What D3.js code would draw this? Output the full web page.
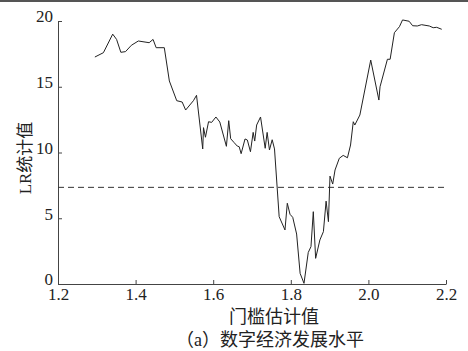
<!DOCTYPE html>
<html>
<head>
<meta charset="utf-8">
<script src="https://cdn.jsdelivr.net/npm/d3@7"></script>
<style>
  html, body { margin: 0; padding: 0; background: #fff; }
  svg { display: block; }
  text { font-family: "Liberation Serif", "DejaVu Serif", "Noto Sans CJK SC", serif; fill: #222; }
</style>
</head>
<body>
<svg id="chart" width="468" height="351"></svg>
<script>
// Threshold estimates and the likelihood-ratio statistic at each one
const thresholds = [
  1.295, 1.317, 1.341, 1.351, 1.362, 1.374, 1.389, 1.407, 1.435, 1.445,
  1.453, 1.474, 1.487, 1.506, 1.520, 1.529, 1.549, 1.557, 1.573, 1.575,
  1.580, 1.588, 1.596, 1.607, 1.617, 1.634, 1.640, 1.645, 1.654, 1.662,
  1.667, 1.672, 1.682, 1.688, 1.696, 1.703, 1.707, 1.712, 1.722, 1.734,
  1.739, 1.745, 1.752, 1.758, 1.770, 1.785, 1.791, 1.798, 1.805, 1.815,
  1.824, 1.834, 1.845, 1.852, 1.858, 1.864, 1.875, 1.884, 1.891, 1.897,
  1.901, 1.908, 1.914, 1.925, 1.935, 1.946, 1.954, 1.961, 1.965, 1.978,
  2.006, 2.027, 2.030, 2.049, 2.056, 2.067, 2.080, 2.088, 2.105, 2.114,
  2.126, 2.137, 2.157, 2.167, 2.176, 2.189
];
const lrStats = [
  17.26, 17.59, 19.00, 18.60, 17.62, 17.67, 18.15, 18.48, 18.35, 18.60,
  17.97, 17.97, 15.44, 13.94, 13.84, 13.23, 13.94, 14.35, 10.27, 11.89,
  11.16, 12.34, 12.29, 12.70, 12.32, 10.47, 12.42, 11.05, 10.75, 10.49,
  10.44, 9.91, 11.03, 10.95, 10.06, 11.53, 10.87, 12.09, 12.70, 10.32,
  11.53, 10.19, 10.97, 10.27, 5.12, 4.11, 6.14, 5.30, 5.07, 3.80,
  0.81, 0.05, 2.40, 2.84, 5.50, 1.95, 3.35, 3.98, 6.30, 4.74,
  8.20, 7.60, 8.67, 9.56, 9.78, 9.60, 10.57, 12.34, 12.09, 12.85,
  17.03, 13.99, 15.00, 17.09, 17.09, 19.11, 19.57, 20.08, 19.98, 19.64,
  19.62, 19.72, 19.62, 19.49, 19.52, 19.37
];
// 95% critical value
const criticalValue = 7.35;

const xTicks = [1.2, 1.4, 1.6, 1.8, 2.0, 2.2];
const yTicks = [0, 5, 10, 15, 20];
const xTitle = "门槛估计值";
const yTitle = "LR统计值";
const caption = "（a）数字经济发展水平";

const serif = "'Liberation Serif', 'DejaVu Serif', serif";
const svg = d3.select("#chart");
const plot = { left: 58, right: 446, top: 21, bottom: 284 };

const x = d3.scaleLinear().domain([1.2, 2.2]).range([plot.left, plot.right]);
const y = d3.scaleLinear().domain([0, 20]).range([plot.bottom, plot.top]);

// thin rule along the top edge of the figure
svg.append("rect").attr("x", 0).attr("y", 0).attr("width", 468).attr("height", 2).attr("fill", "#555");

// axes with inward ticks
const xAxis = svg.append("g")
  .attr("transform", `translate(0,${plot.bottom})`)
  .call(d3.axisBottom(x).tickValues(xTicks).tickFormat(d3.format(".1f")).tickSizeInner(-4).tickSizeOuter(0));
xAxis.select(".domain").attr("stroke", "#444");
xAxis.selectAll(".tick line").attr("stroke", "#444");
xAxis.selectAll(".tick text")
  .attr("y", 3).attr("dy", "0.75em")
  .style("font-family", serif).style("font-size", "17px").style("fill", "#222");

const yAxis = svg.append("g")
  .attr("transform", `translate(${plot.left},0)`)
  .call(d3.axisLeft(y).tickValues(yTicks).tickFormat(d3.format("d")).tickSizeInner(-4).tickSizeOuter(0));
yAxis.select(".domain").attr("stroke", "#444");
yAxis.selectAll(".tick line").attr("stroke", "#444");
yAxis.selectAll(".tick text")
  .attr("x", -5).attr("dy", "0.05em")
  .style("font-family", serif).style("font-size", "17px").style("fill", "#222");

// critical value reference line
svg.append("line")
  .attr("x1", x(1.2)).attr("x2", x(2.2))
  .attr("y1", y(criticalValue)).attr("y2", y(criticalValue))
  .attr("stroke", "#333").attr("stroke-width", 1)
  .attr("stroke-dasharray", "6,4");

// LR statistic curve
const series = thresholds.map((t, i) => [t, lrStats[i]]);
svg.append("path")
  .datum(series)
  .attr("fill", "none")
  .attr("stroke", "#222")
  .attr("stroke-width", 1)
  .attr("stroke-linejoin", "round")
  .attr("d", d3.line().x(d => x(d[0])).y(d => y(d[1])));

// titles
svg.append("text")
  .attr("transform", `translate(31,158) rotate(-90)`)
  .attr("text-anchor", "middle")
  .style("font-size", "17px")
  .text(yTitle);

svg.append("text")
  .attr("x", 274).attr("y", 323)
  .attr("text-anchor", "middle")
  .style("font-size", "18px")
  .text(xTitle);

svg.append("text")
  .attr("x", 270).attr("y", 346)
  .attr("text-anchor", "middle")
  .style("font-size", "18px")
  .text(caption);
</script>
</body>
</html>
